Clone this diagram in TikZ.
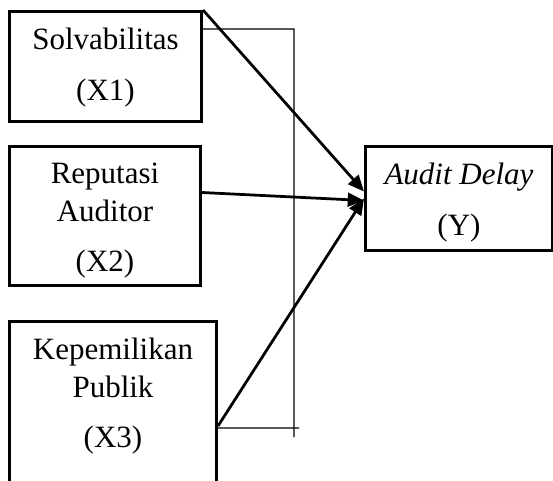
\documentclass[tikz,border=0pt]{standalone}
\usepackage{fontspec}
\setmainfont{Liberation Serif}
\usetikzlibrary{arrows.meta}

\begin{document}
\begin{tikzpicture}[x=0.4pt,y=-0.4pt]
\tikzstyle{every node}+=[inner sep=0pt]
\tikzstyle{varbox}=[draw=black, line width=1.2pt, rectangle, anchor=north west]
\tikzstyle{lbl}=[align=center, anchor=north, font=\fontsize{12.4}{15}\selectfont]
\tikzstyle{link}=[line width=1.1pt, -{Triangle[length=6.5pt,width=5.5pt]}]
\tikzstyle{guide}=[line width=0.5pt]
\useasboundingbox (0,0) rectangle (553,480);
\node [varbox, minimum width=76.8pt, minimum height=44pt] (x1) at (8,10) {};
\node [varbox, minimum width=76.4pt, minimum height=55.6pt] (x2) at (8,145) {};
\node [varbox, minimum width=82.8pt, minimum height=68pt] (x3) at (8,320) {};
\node [varbox, minimum width=74.8pt, minimum height=41.6pt] (y) at (364,145) {};
\node [lbl] (x1t) at ([yshift=-7pt]x1.north) {Solvabilitas\\[5.3pt](X1)};
\node [lbl] (x2t) at ([yshift=-7pt]x2.north) {Reputasi\\Auditor\\[5.3pt](X2)};
\node [lbl] (x3t) at ([yshift=-7pt]x3.north) {Kepemilikan\\Publik\\[5.3pt](X3)};
\node [lbl] (yt) at ([yshift=-7pt]y.north) {\textit{Audit Delay}\\[5.3pt](Y)};
% garis bantu
\coordinate (gtop) at (294,29);
\coordinate (gbot) at (294,437);
\coordinate (gend) at (299,428);
\draw [guide] ([yshift=-7.6pt]x1.north east) -- (gtop) -- (gbot);
\draw [guide] ([yshift=-43.2pt]x3.north east) -- (gend);
% panah
\draw [link] (x1.north east) -- ([yshift=2.8pt]y.west);
\draw [link] ([yshift=9.4pt]x2.east) -- ([yshift=-0.8pt]y.west);
\draw [link] ([yshift=-42.4pt]x3.north east) -- (y.west);
\end{tikzpicture}
\end{document}
